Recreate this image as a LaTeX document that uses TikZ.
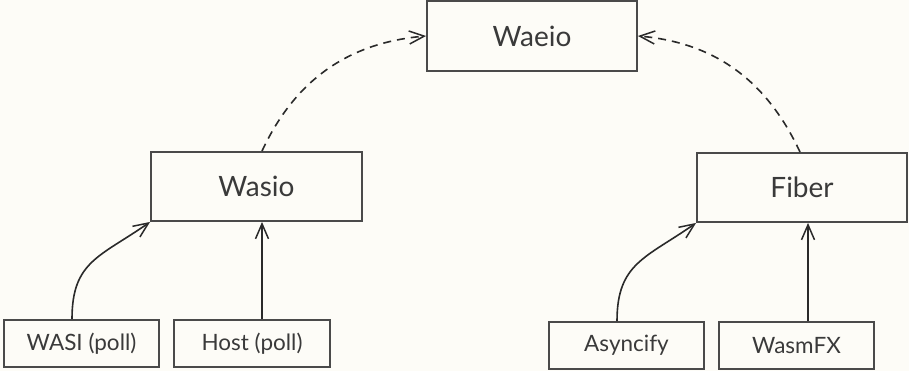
\documentclass[tikz,border=0pt]{standalone}
\usepackage{fontspec}
\setmainfont{Lato}
\usetikzlibrary{arrows.meta}
\definecolor{bg}{HTML}{FDFCF7}
\definecolor{boxline}{HTML}{4A4A4A}
\definecolor{txt}{HTML}{3A3A3A}
\definecolor{linecol}{HTML}{2A2A2A}
\tikzset{
  bigbox/.style={draw=boxline, line width=1.9pt, rectangle, minimum width=210pt, minimum height=69pt, inner sep=0pt, text=txt, font=\fontsize{28}{33}\selectfont},
  smallbox/.style={draw=boxline, line width=1.9pt, rectangle, minimum width=155pt, minimum height=47pt, inner sep=0pt, text=txt, font=\fontsize{22.5}{27}\selectfont},
  arrowtip/.tip={Straight Barb[length=15pt,width=13pt,line width=1.5pt]},
  connline/.style={draw=linecol, line width=1.6pt, -arrowtip},
  dconnline/.style={connline, dash pattern=on 8pt off 6pt}
}
\begin{document}
\begin{tikzpicture}[x=1pt,y=1pt]
\fill[bg] (0,0) rectangle (909,371);
\useasboundingbox (0,0) rectangle (909,371);
\node[bigbox, minimum height=70pt] (waeio) at (532,335) {Waeio};
\node[bigbox, minimum width=211pt] (wasio) at (256.5,184.5) {Wasio};
\node[bigbox] (fiber) at (802,183.5) {Fiber};
\node[smallbox] (wasi) at (81.5,27.5) {WASI (poll)};
\node[smallbox, minimum width=156pt] (host) at (252,27.5) {Host (poll)};
\node[smallbox] (async) at (626.5,25.5) {Asyncify};
\node[smallbox] (wasmfx) at (796.5,25.5) {WasmFX};
\draw[connline] ([xshift=-9.5pt]wasi.north) .. controls +(0,58) and +(-50,-35) .. (wasio.south west);
\draw[connline] ([xshift=10pt]host.north) -- ([xshift=10pt]host.north |- wasio.south);
\draw[connline] ([xshift=-9.5pt]async.north) .. controls +(0,58) and +(-50,-35) .. (fiber.south west);
\draw[connline] ([xshift=11.5pt]wasmfx.north) -- ([xshift=11.5pt]wasmfx.north |- fiber.south);
\draw[dconnline] ([xshift=5.5pt]wasio.north) to[out=65,in=185] (waeio.west);
\draw[dconnline] ([xshift=-2pt]fiber.north) to[out=115,in=-5] (waeio.east);
\end{tikzpicture}
\end{document}
